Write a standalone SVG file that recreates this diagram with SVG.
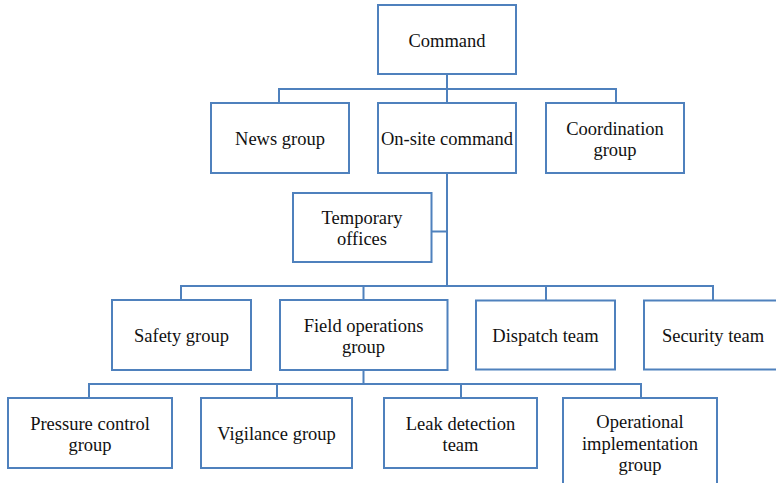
<svg xmlns="http://www.w3.org/2000/svg" width="776" height="483" viewBox="0 0 776 483">
<style>
.box{fill:#fff;stroke:#4f81bd;stroke-width:2}
.ln{fill:none;stroke:#4f81bd;stroke-width:2}
text{font-family:"Liberation Serif","Times New Roman",serif;font-size:18.5px;fill:#111;text-anchor:middle}
</style>
<rect width="776" height="483" fill="#fff"/>
<g id="connectors">
<path class="ln" d="M447 74V103M279 103V89H616V103"/>
<path class="ln" d="M447 173V286M431.5 231.5H447M181 300V286H713V300M363.5 286V300M546 286V300"/>
<path class="ln" d="M363.5 370V384M89 398V384H641V398M277 384V398M461 384V398"/>
</g>
<g id="command"><rect class="box" x="378" y="5" width="138" height="69"/><text x="447" y="46.5">Command</text></g>
<g id="news"><rect class="box" x="211" y="103" width="138" height="70"/><text x="280" y="145">News group</text></g>
<g id="onsite"><rect class="box" x="378" y="103" width="138" height="70"/><text x="447" y="145">On-site command</text></g>
<g id="coordination"><rect class="box" x="546" y="103" width="138" height="70"/><text x="615" y="134.5">Coordination</text><text x="615" y="156">group</text></g>
<g id="temporary"><rect class="box" x="293" y="193" width="138.5" height="69"/><text x="362" y="223.5">Temporary</text><text x="362" y="245">offices</text></g>
<g id="safety"><rect class="box" x="112" y="300" width="139" height="70"/><text x="181.5" y="342">Safety group</text></g>
<g id="field"><rect class="box" x="280" y="300" width="167.5" height="70"/><text x="363.5" y="331.5">Field operations</text><text x="363.5" y="353">group</text></g>
<g id="dispatch"><rect class="box" x="476" y="300.5" width="139" height="69"/><text x="545.5" y="342">Dispatch team</text></g>
<g id="security"><rect class="box" x="644" y="300.5" width="133" height="69"/><text x="713" y="342">Security team</text></g>
<g id="pressure"><rect class="box" x="8" y="398" width="164" height="70"/><text x="90" y="429.5">Pressure control</text><text x="90" y="451">group</text></g>
<g id="vigilance"><rect class="box" x="201" y="398" width="151" height="70"/><text x="276.5" y="440">Vigilance group</text></g>
<g id="leak"><rect class="box" x="384" y="398" width="153" height="70"/><text x="460.5" y="429.5">Leak detection</text><text x="460.5" y="451">team</text></g>
<g id="operational"><rect class="box" x="563" y="398" width="154" height="95"/><text x="640" y="428">Operational</text><text x="640" y="449.5">implementation</text><text x="640" y="471">group</text></g>
</svg>
